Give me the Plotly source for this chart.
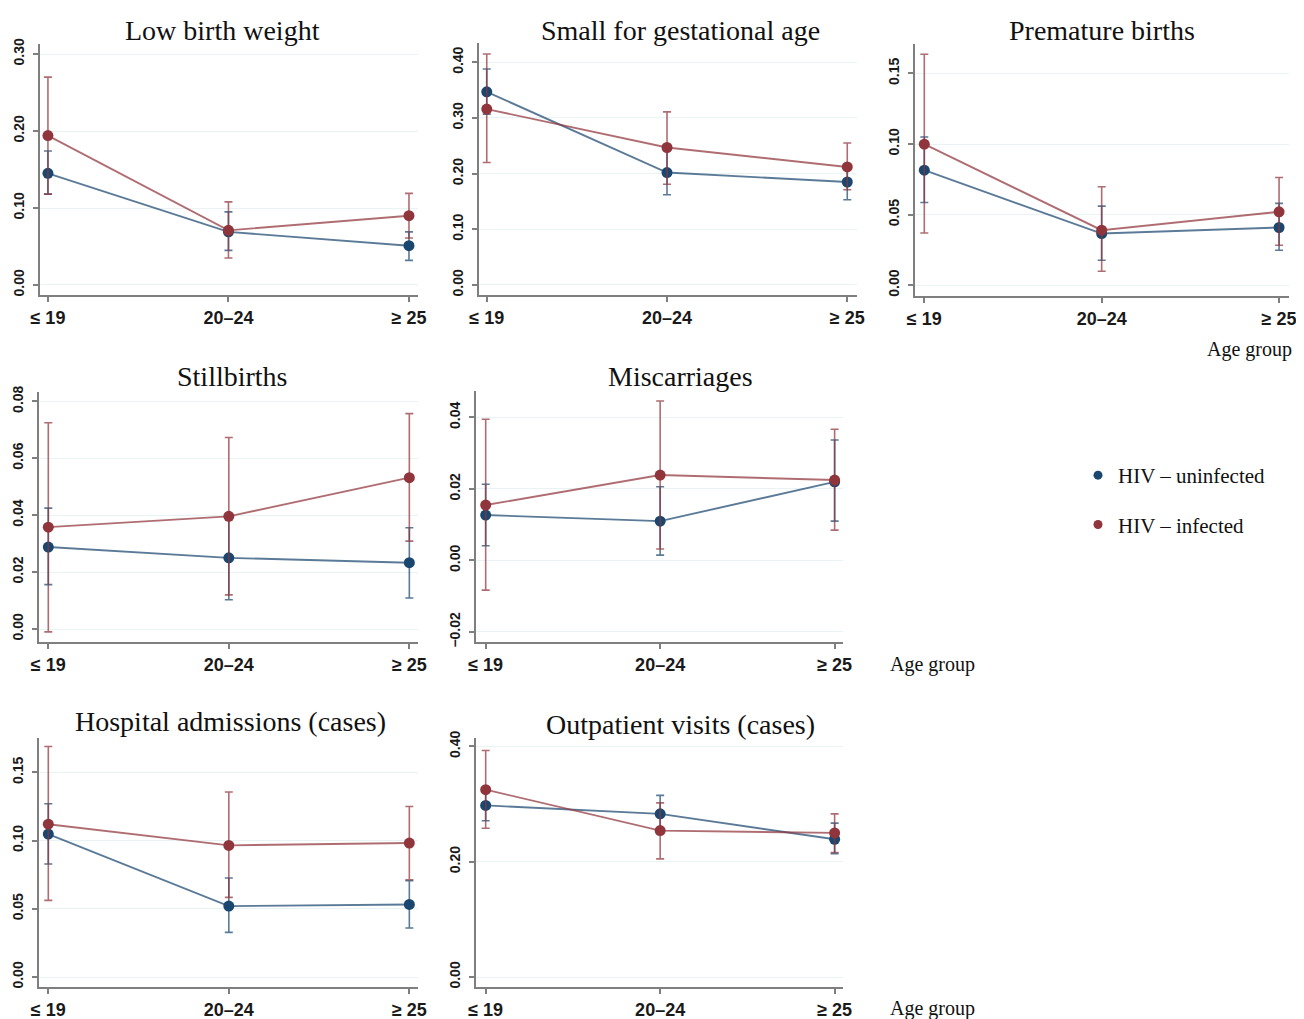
import plotly.graph_objects as go

# ---------------- data ----------------
age_groups = ["≤ 19", "20–24", "≥ 25"]
series_names = ["HIV – uninfected", "HIV – infected"]

panel_titles = ["Low birth weight", "Small for gestational age", "Premature births",
                "Stillbirths", "Miscarriages",
                "Hospital admissions (cases)", "Outpatient visits (cases)"]

# Low birth weight
lbw_uninf = [0.145, 0.069, 0.051]
lbw_uninf_lo = [0.118, 0.045, 0.032]
lbw_uninf_hi = [0.174, 0.095, 0.069]
lbw_inf = [0.194, 0.071, 0.090]
lbw_inf_lo = [0.118, 0.035, 0.061]
lbw_inf_hi = [0.270, 0.108, 0.119]

# Small for gestational age
sga_uninf = [0.347, 0.202, 0.185]
sga_uninf_lo = [0.307, 0.162, 0.153]
sga_uninf_hi = [0.388, 0.243, 0.217]
sga_inf = [0.316, 0.247, 0.212]
sga_inf_lo = [0.220, 0.181, 0.171]
sga_inf_hi = [0.415, 0.311, 0.255]

# Premature births
pre_uninf = [0.0815, 0.0366, 0.0409]
pre_uninf_lo = [0.0586, 0.0177, 0.0248]
pre_uninf_hi = [0.105, 0.056, 0.058]
pre_inf = [0.0999, 0.0390, 0.0520]
pre_inf_lo = [0.037, 0.0099, 0.0283]
pre_inf_hi = [0.1635, 0.0697, 0.0763]

# Stillbirths
still_uninf = [0.0288, 0.0250, 0.0233]
still_uninf_lo = [0.0156, 0.0103, 0.0109]
still_uninf_hi = [0.0425, 0.0390, 0.0356]
still_inf = [0.0358, 0.0396, 0.0532]
still_inf_lo = [-0.0010, 0.0120, 0.0309]
still_inf_hi = [0.0725, 0.0673, 0.0757]

# Miscarriages
misc_uninf = [0.0127, 0.0110, 0.0220]
misc_uninf_lo = [0.0041, 0.0015, 0.0110]
misc_uninf_hi = [0.0213, 0.0206, 0.0337]
misc_inf = [0.0155, 0.0239, 0.0225]
misc_inf_lo = [-0.0083, 0.0032, 0.0085]
misc_inf_hi = [0.0395, 0.0446, 0.0367]

# Hospital admissions
hosp_uninf = [0.1048, 0.0520, 0.0532]
hosp_uninf_lo = [0.0828, 0.0327, 0.0359]
hosp_uninf_hi = [0.1270, 0.0726, 0.0706]
hosp_inf = [0.1120, 0.0965, 0.0982]
hosp_inf_lo = [0.0562, 0.0584, 0.0713]
hosp_inf_hi = [0.1690, 0.1356, 0.1250]

# Outpatient visits
out_uninf = [0.2977, 0.2830, 0.2390]
out_uninf_lo = [0.2710, 0.2510, 0.2140]
out_uninf_hi = [0.3250, 0.3150, 0.2670]
out_inf = [0.3250, 0.2540, 0.2500]
out_inf_lo = [0.2580, 0.2050, 0.2160]
out_inf_hi = [0.3930, 0.3020, 0.2830]

y_ticks = [
    [0, 0.1, 0.2, 0.3],
    [0, 0.1, 0.2, 0.3, 0.4],
    [0, 0.05, 0.10, 0.15],
    [0, 0.02, 0.04, 0.06, 0.08],
    [-0.02, 0, 0.02, 0.04],
    [0, 0.05, 0.10, 0.15],
    [0, 0.2, 0.4],
]

panels_data = [
    (lbw_uninf, lbw_uninf_lo, lbw_uninf_hi, lbw_inf, lbw_inf_lo, lbw_inf_hi),
    (sga_uninf, sga_uninf_lo, sga_uninf_hi, sga_inf, sga_inf_lo, sga_inf_hi),
    (pre_uninf, pre_uninf_lo, pre_uninf_hi, pre_inf, pre_inf_lo, pre_inf_hi),
    (still_uninf, still_uninf_lo, still_uninf_hi, still_inf, still_inf_lo, still_inf_hi),
    (misc_uninf, misc_uninf_lo, misc_uninf_hi, misc_inf, misc_inf_lo, misc_inf_hi),
    (hosp_uninf, hosp_uninf_lo, hosp_uninf_hi, hosp_inf, hosp_inf_lo, hosp_inf_hi),
    (out_uninf, out_uninf_lo, out_uninf_hi, out_inf, out_inf_lo, out_inf_hi),
]

# ---------------- layout (pixel geometry) ----------------
# The page body has an 8px margin, so the figure is sized to the visible area.
OFF = 8
VW, VH = 1304, 1019
W, H = VW - OFF, VH - OFF
# (x0, x1, ytop, ybot) in screen px, x range, y range
geom = [
    ((40, 418, 44, 295), [-0.044, 2.05], [-0.013, 0.313]),
    ((479, 857, 43, 295), [-0.043, 2.054], [-0.018, 0.4347]),
    ((915, 1289, 44, 296), [-0.0524, 2.056], [-0.0076, 0.1708]),
    ((39, 418, 392, 642), [-0.0515, 2.048], [-0.00457, 0.0833]),
    ((476, 843, 391, 642), [-0.0555, 2.048], [-0.0228, 0.0474]),
    ((39, 418, 738, 987), [-0.0515, 2.048], [-0.0073, 0.1752]),
    ((476, 843, 738, 987), [-0.0555, 2.048], [-0.0173, 0.4146]),
]
title_pos = [(222, 30), (680, 30), (1102, 30), (232, 376), (680, 376), (231, 721), (680, 724)]
agegroup_pos = [(1294, 349, "right"), (888, 664, "left"), (888, 1008, "left")]

BLUE = "#1a476f"
RED = "#90353b"
BLUE_L = "rgba(26,71,111,0.72)"
RED_L = "rgba(144,53,59,0.72)"

def fx(px):
    return (px - OFF) / W

def fy(py):
    return 1 - (py - OFF) / H

fig = go.Figure()
layout = dict(
    width=W, height=H,
    margin=dict(l=0, r=0, t=0, b=0, autoexpand=False),
    paper_bgcolor="white", plot_bgcolor="white",
    showlegend=True,
    font=dict(family="Liberation Sans, Arial", color="#222"),
)

annotations = []
for i, ((x0, x1, yt, yb), xr, yr) in enumerate(geom):
    n = "" if i == 0 else str(i + 1)
    xa, ya = "x" + n, "y" + n
    layout["xaxis" + n] = dict(
        domain=[fx(x0), fx(x1)], anchor=ya, type="category",
        categoryorder="array", categoryarray=age_groups,
        range=xr, showline=True, linecolor="#7f7f7f", linewidth=2,
        ticks="outside", ticklen=5, tickcolor="#7f7f7f", tickwidth=1.5,
        ticklabelstandoff=0,
        showgrid=False, zeroline=False, automargin=False,
        tickfont=dict(family="Liberation Sans, Arial", size=18, color="#1a1a1a", weight="bold"),
    )
    layout["yaxis" + n] = dict(
        domain=[fy(yb), fy(yt)], anchor=xa, range=yr,
        tickvals=y_ticks[i], tickformat=".2f", tickangle=-90,
        showline=True, linecolor="#7f7f7f", linewidth=2,
        ticks="outside", ticklen=5, tickcolor="#7f7f7f", tickwidth=1.5,
        ticklabelstandoff=3,
        showgrid=True, gridcolor="#e9f3f4", gridwidth=1, zeroline=False, automargin=False,
        tickfont=dict(family="Liberation Sans, Arial", size=14, color="#1a1a1a", weight="bold"),
    )
    u, ulo, uhi, f, flo, fhi = panels_data[i]
    for vals, lo, hi, col, lcol, name in [(u, ulo, uhi, BLUE, BLUE_L, series_names[0]),
                                          (f, flo, fhi, RED, RED_L, series_names[1])]:
        fig.add_trace(go.Scatter(
            x=age_groups, y=vals, xaxis=xa, yaxis=ya, mode="lines+markers",
            name=name, showlegend=False, cliponaxis=False,
            line=dict(color=lcol, width=1.9),
            marker=dict(color=col, size=11),
            error_y=dict(type="data", symmetric=False,
                         array=[h - v for h, v in zip(hi, vals)],
                         arrayminus=[v - l for v, l in zip(vals, lo)],
                         color=lcol, thickness=1.6, width=4),
        ))
    tx, ty = title_pos[i]
    annotations.append(dict(x=fx(tx), y=fy(ty), xref="paper", yref="paper",
                            text=panel_titles[i], showarrow=False,
                            xanchor="center", yanchor="middle",
                            font=dict(family="Liberation Serif, Times New Roman", size=28, color="#111")))

for (ax_, ay_, anc) in agegroup_pos:
    annotations.append(dict(x=fx(ax_), y=fy(ay_), xref="paper", yref="paper",
                            text="Age group", showarrow=False,
                            xanchor=anc, yanchor="middle",
                            font=dict(family="Liberation Serif, Times New Roman", size=20, color="#111")))

# legend entries
for name, col, grp in [(series_names[0], BLUE, "g1"), (series_names[1], RED, "g2")]:
    fig.add_trace(go.Scatter(x=[None], y=[None], mode="markers", name=name,
                             legendgroup=grp, showlegend=True,
                             marker=dict(color=col, size=9), xaxis="x5", yaxis="y5"))

layout["legend"] = dict(x=fx(1078), y=fy(455), xanchor="left", yanchor="top",
                        bgcolor="rgba(0,0,0,0)", tracegroupgap=19, itemwidth=30,
                        font=dict(family="Liberation Serif, Times New Roman", size=21, color="#111"))
layout["annotations"] = annotations
fig.update_layout(**layout)

fig.write_html("out.html")
